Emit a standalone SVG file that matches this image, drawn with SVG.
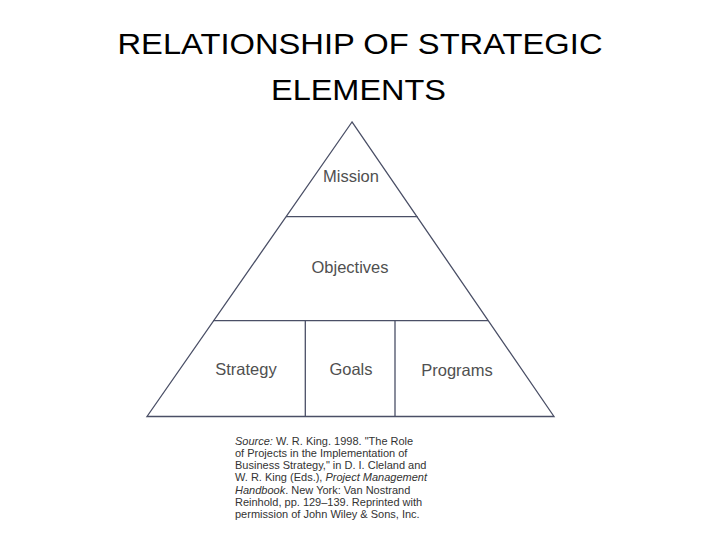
<svg xmlns="http://www.w3.org/2000/svg" width="720" height="540" viewBox="0 0 720 540">
<style>
.title{font-family:"Liberation Sans",Arial,sans-serif;font-size:29px;fill:#000;text-anchor:middle}
.lbl{font-family:"Liberation Sans",Arial,sans-serif;font-size:16.5px;fill:#505050;text-anchor:middle}
.src{font-family:"Liberation Sans",Arial,sans-serif;font-size:11px;fill:#333}
.ln{stroke:#4a4f66;stroke-width:1.3;fill:none}
</style>
<rect width="720" height="540" fill="#fff"/>
<text class="title" x="360" y="53.5" textLength="485" lengthAdjust="spacingAndGlyphs">RELATIONSHIP OF STRATEGIC</text>
<text class="title" x="358.5" y="100" textLength="175" lengthAdjust="spacingAndGlyphs">ELEMENTS</text>
<g id="connectors">
<polygon class="ln" points="352,122 147,416.5 554,416.5"/>
<line class="ln" x1="286" y1="216.7" x2="417.5" y2="216.7"/>
<line class="ln" x1="213" y1="320.7" x2="488" y2="320.7"/>
<line class="ln" x1="305.3" y1="320.7" x2="305.3" y2="416.5"/>
<line class="ln" x1="395" y1="320.7" x2="395" y2="416.5"/>
</g>
<g id="mission"><text class="lbl" x="351" y="181.5">Mission</text></g>
<g id="objectives"><text class="lbl" x="350" y="272.5">Objectives</text></g>
<g id="strategy"><text class="lbl" x="246" y="374.5">Strategy</text></g>
<g id="goals"><text class="lbl" x="351" y="374.5">Goals</text></g>
<g id="programs"><text class="lbl" x="457" y="375.5">Programs</text></g>
<g id="source">
<text class="src" x="235" y="444.5"><tspan font-style="italic">Source:</tspan> W. R. King. 1998. "The Role</text>
<text class="src" x="235" y="456.8">of Projects in the Implementation of</text>
<text class="src" x="235" y="469.1">Business Strategy," in D. I. Cleland and</text>
<text class="src" x="235" y="481.4">W. R. King (Eds.), <tspan font-style="italic">Project Management</tspan></text>
<text class="src" x="235" y="493.7"><tspan font-style="italic">Handbook</tspan>. New York: Van Nostrand</text>
<text class="src" x="235" y="506">Reinhold, pp. 129–139. Reprinted with</text>
<text class="src" x="235" y="518.3">permission of John Wiley &amp; Sons, Inc.</text>
</g>
</svg>
